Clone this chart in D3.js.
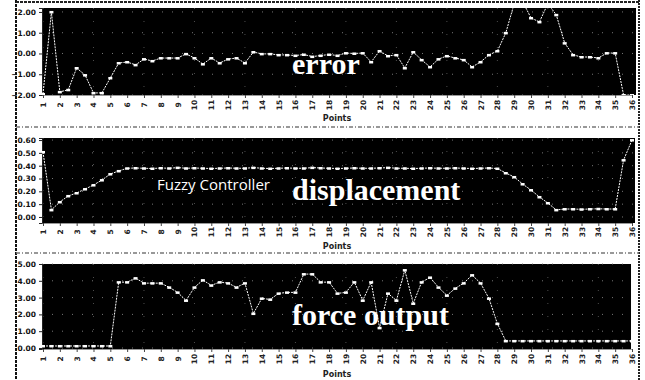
<!DOCTYPE html>
<html>
<head>
<meta charset="utf-8">
<script src="https://cdn.jsdelivr.net/npm/d3@7"></script>
<style>
  body { margin: 0; background: #fff; }
  svg { display: block; }
</style>
</head>
<body>
<div id="chart"></div>
<script>
  // x tick labels, one per two samples
  var tickLabels = ["1","2","3","4","5","6","7","8","9","10","11","12","13","14","15","16","17","18",
                    "19","20","21","22","23","24","25","26","27","28","29","30","31","32","33","34","35","36"];

  var errorValues = [
    -1.95, 2.0, -1.85, -1.75, -0.7, -1.04, -1.9, -1.9, -1.18, -0.46,
    -0.41, -0.55, -0.27, -0.36, -0.22, -0.22, -0.22, -0.02, -0.22, -0.51,
    -0.22, -0.46, -0.27, -0.22, -0.46, 0.07, -0.02, -0.02, -0.07, -0.07,
    -0.1, -0.05, -0.15, -0.1, -0.05, -0.1, 0.02, 0.0, 0.02, -0.41,
    0.12, -0.12, -0.07, -0.7, 0.07, -0.31, -0.65, -0.27, -0.12, -0.22,
    -0.31, -0.65, -0.41, -0.07, 0.12, 0.99, 2.4, 2.5, 1.71, 1.52,
    2.4, 1.86, 0.5, -0.07, -0.17, -0.17, -0.22, 0.02, 0.02, -2.0,
    -2.0
  ];

  var displacementValues = [
    0.507, 0.055, 0.117, 0.164, 0.187, 0.218, 0.249, 0.288, 0.335, 0.359,
    0.380, 0.382, 0.380, 0.378, 0.382, 0.380, 0.385, 0.380, 0.382, 0.380,
    0.378, 0.380, 0.382, 0.380, 0.380, 0.385, 0.380, 0.378, 0.380, 0.382,
    0.380, 0.380, 0.385, 0.382, 0.380, 0.378, 0.380, 0.382, 0.380, 0.380,
    0.382, 0.385, 0.380, 0.380, 0.378, 0.380, 0.382, 0.380, 0.380, 0.382,
    0.380, 0.378, 0.380, 0.382, 0.378, 0.343, 0.312, 0.257, 0.210, 0.156,
    0.109, 0.055, 0.062, 0.062, 0.060, 0.062, 0.064, 0.062, 0.062, 0.444,
    0.600
  ];

  var forceValues = [
    0.12, 0.12, 0.12, 0.12, 0.12, 0.12, 0.12, 0.12, 0.12, 3.92,
    3.92, 4.16, 3.86, 3.86, 3.86, 3.61, 3.31, 2.83, 3.61, 4.04,
    3.73, 3.92, 3.86, 3.61, 3.86, 2.05, 2.95, 2.89, 3.25, 3.31,
    3.31, 4.40, 4.40, 3.92, 3.92, 3.25, 3.31, 3.92, 2.83, 3.92,
    1.2, 3.25, 2.83, 4.64, 2.65, 3.92, 4.2, 3.61, 3.13, 3.55,
    3.86, 4.34, 3.86, 2.95, 1.45, 0.42, 0.42, 0.42, 0.42, 0.42,
    0.42, 0.42, 0.42, 0.42, 0.42, 0.42, 0.42, 0.42, 0.42, 0.42,
    0.42
  ];

  var errorTicks = [-2, -1, 0, 1, 2];
  var displacementTicks = [0, 0.1, 0.2, 0.3, 0.4, 0.5, 0.6];
  var forceTicks = [0, 1, 2, 3, 4, 5];

  var width = 645, height = 380;

  var svg = d3.select('#chart').append('svg')
      .attr('width', width)
      .attr('height', height);

  // sample index -> pixel, labelled ticks on every second sample
  var x = d3.scaleLinear().domain([0, 70]).range([43, 632]);

  var panels = [
    { id: 'err',  values: errorValues,        ticks: errorTicks,        domain: [-2, 2.19],
      top: 8,   bottom: 95,  right: 636, labelY: 105, titleY: 121,
      text: 'error',        textX: 292, textY: 74 },
    { id: 'disp', values: displacementValues, ticks: displacementTicks, domain: [-0.047, 0.616],
      top: 138, bottom: 223, right: 635, labelY: 232, titleY: 249,
      text: 'displacement', textX: 292, textY: 200 },
    { id: 'force', values: forceValues,       ticks: forceTicks,        domain: [-0.06, 5.0],
      top: 264, bottom: 349, right: 631, labelY: 359, titleY: 377,
      text: 'force output', textX: 292, textY: 325 }
  ];

  // outer frame of the scanned figure
  svg.append('line').attr('x1', 16).attr('x2', 16).attr('y1', 0).attr('y2', height)
     .attr('stroke', '#111').attr('stroke-width', 2).attr('stroke-dasharray', '3,1');
  svg.append('line').attr('x1', 639).attr('x2', 639).attr('y1', 0).attr('y2', height)
     .attr('stroke', '#222').attr('stroke-width', 2).attr('stroke-dasharray', '2,1');
  [2, 127, 253].forEach(function(yy, i){
    svg.append('line').attr('x1', 16).attr('x2', 639).attr('y1', yy).attr('y2', yy)
       .attr('stroke', i ? '#777' : '#222').attr('stroke-width', i ? 1.5 : 2)
       .attr('stroke-dasharray', i ? '4,2,1,2' : '3,1');
  });

  panels.forEach(function(p){
    var y = d3.scaleLinear().domain(p.domain).range([p.bottom, p.top]);
    var g = svg.append('g');

    g.append('rect')
      .attr('x', 42).attr('y', p.top)
      .attr('width', p.right - 42).attr('height', p.bottom - p.top)
      .attr('fill', '#000');

    g.append('clipPath').attr('id', 'clip-' + p.id)
      .append('rect')
      .attr('x', 42).attr('y', p.top)
      .attr('width', p.right - 42).attr('height', p.bottom - p.top);

    // dotted grid
    g.selectAll('.hgrid').data(p.ticks).enter().append('line')
      .attr('x1', 42).attr('x2', p.right)
      .attr('y1', d => y(d)).attr('y2', d => y(d))
      .attr('stroke', '#777').attr('stroke-width', 1)
      .attr('stroke-dasharray', '1,9');
    g.selectAll('.vgrid').data(tickLabels).enter().append('line')
      .attr('x1', (d, i) => x(i * 2)).attr('x2', (d, i) => x(i * 2))
      .attr('y1', p.top).attr('y2', p.bottom)
      .attr('stroke', '#555').attr('stroke-width', 1)
      .attr('stroke-dasharray', '1,12')
      .attr('opacity', (d, i) => i % 3 === 0 ? 0.9 : 0);

    // y axis
    var yAxis = d3.axisLeft(y).tickValues(p.ticks).tickFormat(d3.format('.2f')).tickSize(3);
    var ya = g.append('g').attr('transform', 'translate(42,0)').call(yAxis);
    ya.select('.domain').attr('stroke', '#222');
    ya.selectAll('text')
      .attr('font-family', 'DejaVu Sans').attr('font-size', 7.5).attr('font-weight', 'bold')
      .attr('fill', '#111');
    ya.selectAll('line').attr('stroke', '#222');

    // x axis
    var xAxis = d3.axisBottom(x).tickValues(d3.range(0, 71, 2))
        .tickFormat((d) => tickLabels[d / 2]).tickSize(3);
    var xa = g.append('g').attr('transform', 'translate(0,' + p.bottom + ')').call(xAxis);
    xa.select('.domain').attr('stroke', '#999');
    xa.selectAll('line').attr('stroke', '#444');
    xa.selectAll('text')
      .attr('font-family', 'DejaVu Sans').attr('font-size', 7.5).attr('font-weight', 'bold')
      .attr('fill', '#222')
      .attr('text-anchor', 'middle')
      .attr('dy', null).attr('y', 0)
      .attr('transform', 'translate(0,' + (p.labelY - p.bottom) + ') rotate(-90)')
      .attr('dominant-baseline', 'central');

    g.append('text')
      .attr('x', 337).attr('y', p.titleY)
      .attr('text-anchor', 'middle')
      .attr('font-family', 'DejaVu Sans').attr('font-size', 8).attr('font-weight', 'bold')
      .attr('fill', '#222')
      .text('Points');

    // series
    var line = d3.line().x((d, i) => x(i)).y(d => y(d));
    var plot = g.append('g').attr('clip-path', 'url(#clip-' + p.id + ')');
    plot.append('path')
      .datum(p.values)
      .attr('d', line)
      .attr('fill', 'none')
      .attr('stroke', '#fff')
      .attr('stroke-width', 1)
      .attr('stroke-dasharray', '2,1');
    plot.selectAll('.pt').data(p.values).enter().append('rect')
      .attr('x', (d, i) => x(i) - 2)
      .attr('y', d => y(d) - 1)
      .attr('width', 4).attr('height', 2.5)
      .attr('fill', '#fff');

    g.append('text')
      .attr('x', p.textX).attr('y', p.textY)
      .attr('font-family', 'Liberation Serif').attr('font-size', 30).attr('font-weight', 'bold')
      .attr('fill', '#fff')
      .text(p.text);
  });

  svg.append('text')
    .attr('x', 157).attr('y', 190)
    .attr('font-family', 'Open Sans').attr('font-size', 15)
    .attr('textLength', 113).attr('lengthAdjust', 'spacingAndGlyphs')
    .attr('fill', '#fff')
    .text('Fuzzy Controller');
</script>
</body>
</html>
